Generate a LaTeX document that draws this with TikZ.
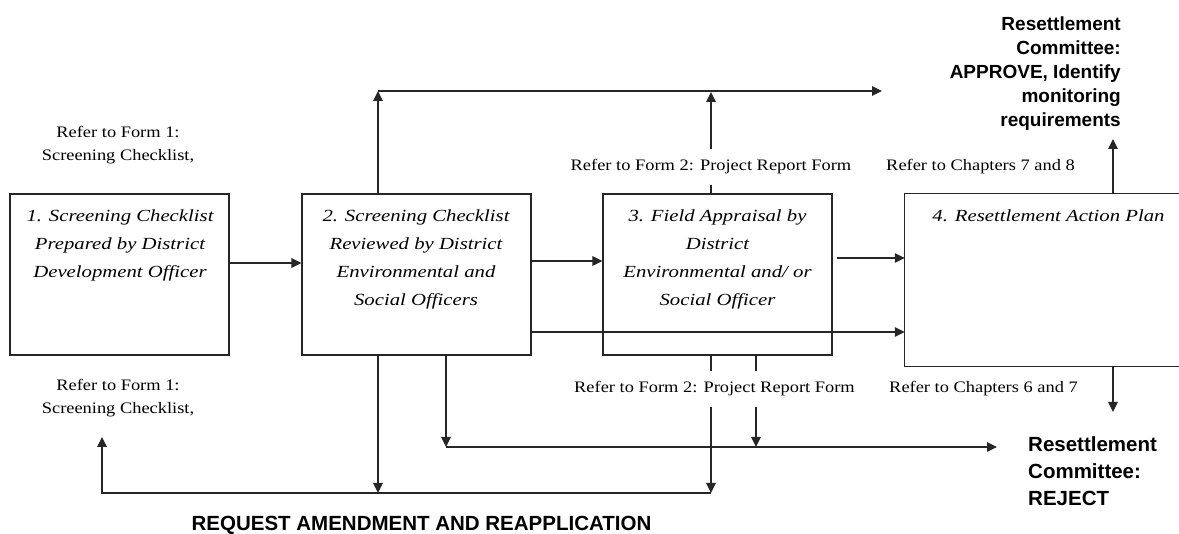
\documentclass[tikz,border=0pt]{standalone}
\usepackage{fontspec}
\setmainfont{Liberation Serif}
\newfontfamily\lblfont[FakeStretch=1.15]{Liberation Serif}
\newfontfamily\boxfont[FakeStretch=1.22]{Liberation Serif}
\newfontfamily\hdfont{Liberation Sans}
\usetikzlibrary{arrows.meta}
\begin{document}
\begin{tikzpicture}[x=1pt,y=-1pt,
  box/.style={draw=black!85,line width=1.1pt,inner sep=0pt},
  boxtxt/.style={font=\boxfont\itshape\fontsize{17}{28}\selectfont,align=center,anchor=north,inner sep=0pt},
  lbl/.style={font=\lblfont\fontsize{16}{23}\selectfont,fill=white,inner xsep=2pt,inner ysep=11pt,anchor=base},
  lbltwo/.style={font=\lblfont\fontsize{16}{23}\selectfont,align=center,anchor=north,inner sep=0pt},
  arr/.style={draw=black!85,line width=1.2pt,-{Triangle[length=10pt,width=9.5pt]}},
  ln/.style={draw=black!85,line width=1.2pt}
]
\useasboundingbox[fill=white] (0,0) rectangle (1179,534);

% boxes
\node[box,minimum width=219pt,minimum height=161pt] (b1) at (119.5,274.5) {};
\node[box,minimum width=229pt,minimum height=161pt] (b2) at (416.5,274.5) {};
\node[box,minimum width=229pt,minimum height=161pt] (b3) at (717.5,274.5) {};
\node[minimum width=274pt,minimum height=172pt,inner sep=0pt] (b4) at (1042,280) {};
\draw[ln] (b4.north east) -- (b4.north west) -- (b4.south west) -- (b4.south east);

% box texts
\node[boxtxt] (t1) at (120,209.4) {1. Screening Checklist\\Prepared by District\\Development Officer};
\node[boxtxt] (t2) at (416,209.4) {2. Screening Checklist\\Reviewed by District\\Environmental and\\Social Officers};
\node[boxtxt] (t3) at (717.5,209.4) {3. Field Appraisal by\\District\\Environmental and/ or\\Social Officer};
\node[boxtxt] (t4) at (1048.5,209.4) {4. Resettlement Action Plan};

% coordinates
\coordinate (h1) at (0,263);
\coordinate (h2) at (0,261);
\coordinate (h3) at (0,258);
\coordinate (m1) at (531,332);
\coordinate (tl) at (378,91);
\coordinate (tr) at (882,91);
\coordinate (tm) at (711,92);
\coordinate (ap) at (1113,139);
\coordinate (rj) at (1113,412);
\coordinate (d1) at (378,493);
\coordinate (d2) at (711,493);
\coordinate (bl) at (102,493);
\coordinate (bu) at (102,437);
\coordinate (r1) at (446,447);
\coordinate (r2) at (756,447);
\coordinate (rr) at (997,447);

% horizontal flow
\draw[arr] (b1.east |- h1) -- (b2.west |- h1);
\draw[arr] (b2.east |- h2) -- (b3.west |- h2);
\draw[arr] ([xshift=4pt]b3.east |- h3) -- (b4.west |- h3);
\draw[arr] (m1) -- (m1 -| b4.west);

% top connectors
\draw[arr] (b2.north -| tl) -- (tl);
\draw[arr] (tl) -- (tr);
\draw[arr] (b3.north -| tm) -- (tm);
\draw[arr] (b4.north -| ap) -- (ap);

% bottom connectors
\draw[arr] (b2.south -| d1) -- (d1);
\draw[arr] (b3.south -| d2) -- (d2);
\draw[arr] (d2) -- (bl) -- (bu);
\draw[arr] (b2.south -| r1) -- (r1);
\draw[arr] (r1) -- (rr);
\draw[arr] (b3.south -| r2) -- (r2);
\draw[arr] (b4.south -| rj) -- (rj);

% labels
\node[lbltwo] (f1t) at (118,125.8) {Refer to Form 1:\\Screening Checklist,};
\node[lbltwo] (f1b) at (118,379) {Refer to Form 1:\\Screening Checklist,};
\node[lbl] (f2t) at (711,171) {Refer to Form 2: Project Report Form};
\node[lbl] (f2b) at (714.5,393) {Refer to Form 2: Project Report Form};
\node[lbl] (c78) at (980.5,171) {Refer to Chapters 7 and 8};
\node[lbl] (c67) at (983.5,393) {Refer to Chapters 6 and 7};

% outcome texts
\node[font=\hdfont\bfseries\fontsize{19}{24}\selectfont,align=right,anchor=north east,inner sep=0pt] (appr) at (1121,16.4) {Resettlement\\Committee:\\APPROVE, Identify\\monitoring\\requirements};
\node[font=\hdfont\bfseries\fontsize{20.5}{27}\selectfont,align=left,anchor=north west,inner sep=0pt] (rej) at (1028,436) {Resettlement\\Committee:\\REJECT};
\node[font=\hdfont\bfseries\fontsize{20.5}{24}\selectfont,anchor=base,inner sep=0pt] (req) at (421.5,531) {REQUEST AMENDMENT AND REAPPLICATION};
\end{tikzpicture}
\end{document}
